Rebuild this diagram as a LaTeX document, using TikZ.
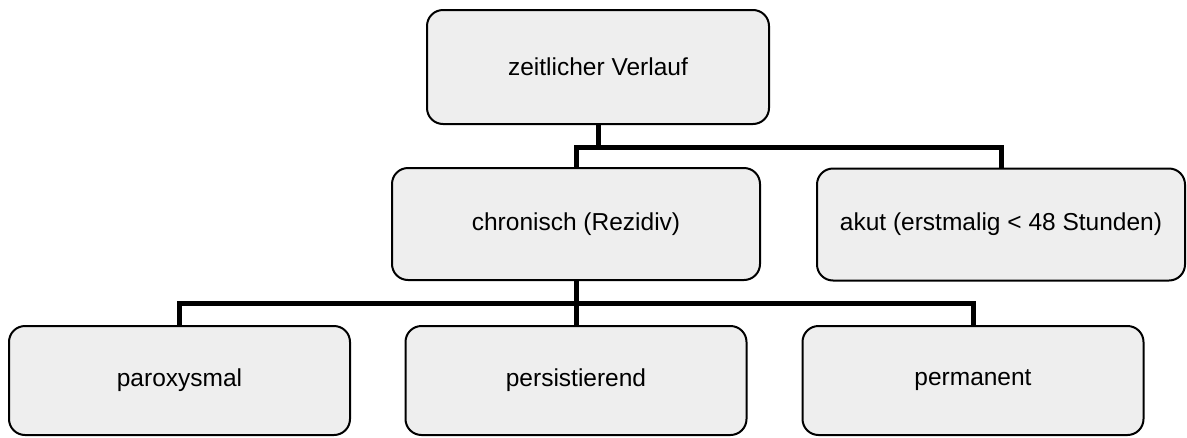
\documentclass[tikz,border=0pt]{standalone}
\usepackage{fontspec}
\setmainfont{Liberation Sans}
\definecolor{boxgray}{HTML}{EEEEEE}

\begin{document}
\begin{tikzpicture}[x=1pt, y=-1pt,
		box/.style={draw=black, line width=2pt, fill=boxgray, rounded corners=16pt,
			minimum width=#1, minimum height=112pt, inner sep=0pt,
			font=\fontsize{24.5}{29}\selectfont},
		box/.default=341pt,
		conn/.style={draw=black, line width=5pt}]
		
		\useasboundingbox (0,0) rectangle (1187,437);
		
		% --- OBERE EBENE ---
		\node[box=342pt, minimum height=114pt] (verlauf) at (598,67) {zeitlicher Verlauf};
		
		% --- MITTLERE EBENE ---
		\node[box=368pt] (chronisch) at (576,224) {chronisch (Rezidiv)};
		\node[box=368pt] (akut) at (1001,224.5) {akut (erstmalig < 48 Stunden)};
		
		% --- UNTERE EBENE ---
		\node[box, minimum height=109pt] (parox) at (179.5,380.5) {paroxysmal};
		\node[box, minimum height=109pt] (persist) at (576,380.5) {persistierend};
		\node[box, minimum height=109pt] (perm) at (973,380.5) {permanent};
		
		% --- VERBINDUNGEN ---
		\coordinate (j1) at (598,147);
		\coordinate (j2) at (576,303);
		\draw[conn] (verlauf.south) -- (j1);
		\draw[conn] (chronisch.north) |- (j1) -| (akut.north);
		\draw[conn] (chronisch.south) -- (j2);
		\draw[conn] (parox.north) |- (j2) -| (perm.north);
		\draw[conn] (j2) -- (persist.north);
		
	\end{tikzpicture}
\end{document}
